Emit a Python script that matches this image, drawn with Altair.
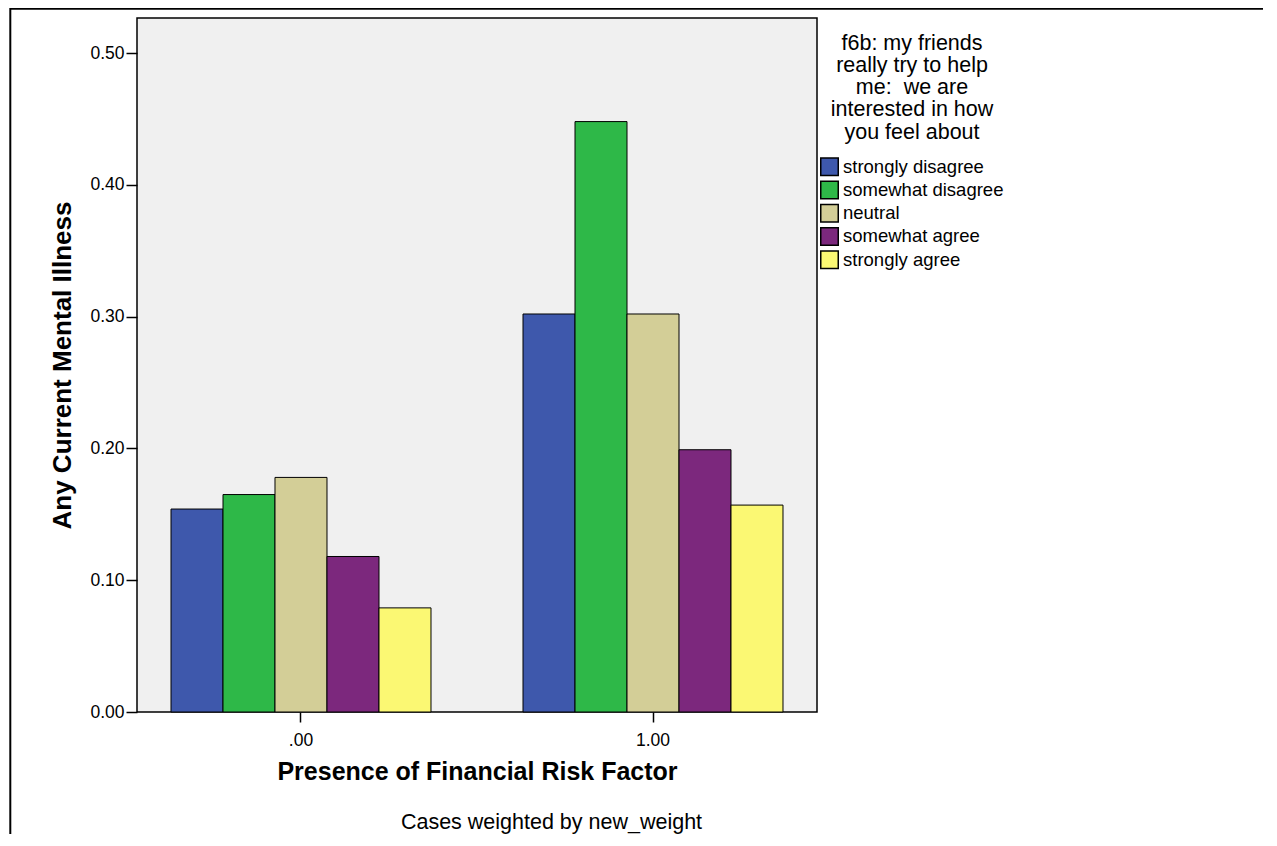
import altair as alt
import pandas as pd

risk = [".00", "1.00"]
categories = ["strongly disagree", "somewhat disagree", "neutral", "somewhat agree", "strongly agree"]
colors = ["#3E58AC", "#2EB848", "#D3CE97", "#7C287D", "#FBF873"]
vals_0 = [0.154, 0.165, 0.178, 0.118, 0.079]
vals_1 = [0.302, 0.448, 0.302, 0.199, 0.157]
y_ticks = [0.0, 0.1, 0.2, 0.3, 0.4, 0.5]
legend_title = ["f6b: my friends", "really try to help", "me: \u00a0we are", "interested in how", "you feel about"]

rows = []
for r, vals in zip(risk, [vals_0, vals_1]):
    for c, v in zip(categories, vals):
        rows.append({"risk": r, "cat": c, "value": v})
df = pd.DataFrame(rows)

FONT = "Liberation Sans"

bars = alt.Chart(df).mark_bar(stroke="black", strokeWidth=1, opacity=1).encode(
    x=alt.X("risk:N", sort=risk,
            scale=alt.Scale(paddingInner=0.2614, paddingOuter=0.0966),
            axis=alt.Axis(title="Presence of Financial Risk Factor", labelAngle=0,
                          domain=False, tickSize=10, tickWidth=1.5, tickColor="black",
                          labelPadding=9, labelFontSize=17.5, labelColor="black",
                          labelFont=FONT, titleFont=FONT, titleFontSize=25,
                          titleFontWeight="bold", titleColor="black", titlePadding=11)),
    xOffset=alt.XOffset("cat:N", sort=categories,
                        scale=alt.Scale(paddingInner=0, paddingOuter=0)),
    y=alt.Y("value:Q",
            scale=alt.Scale(domain=[0, 0.5266], nice=False, zero=True),
            axis=alt.Axis(title="Any Current Mental Illness", values=y_ticks, format=".2f",
                          grid=False, domain=False, tickSize=11, tickWidth=1.5,
                          tickColor="black", labelPadding=2, labelFontSize=17.5,
                          labelColor="black", labelFont=FONT, titleFont=FONT,
                          titleFontSize=26, titleFontWeight="bold", titleColor="black",
                          titlePadding=14)),
    color=alt.Color("cat:N", sort=categories,
                    scale=alt.Scale(domain=categories, range=colors),
                    legend=alt.Legend(title=legend_title, orient="none",
                                      legendX=683, legendY=14.5,
                                      titleFont=FONT, titleFontSize=21.5,
                                      titleFontWeight="normal", titleColor="black",
                                      titleAlign="center", titleAnchor="middle",
                                      titleLineHeight=22.3, titlePadding=14,
                                      labelFont=FONT, labelFontSize=18.5,
                                      labelColor="black", labelOffset=4, labelLimit=0,
                                      symbolType="square", symbolSize=306,
                                      symbolStrokeColor="black", symbolStrokeWidth=1.5,
                                      symbolOpacity=1, rowPadding=-1.75, padding=0)),
)

note = alt.Chart(alt.Data(values=[{"t": "Cases weighted by new_weight"}])).mark_text(
    font=FONT, fontSize=21.5, color="black", align="center", baseline="alphabetic"
).encode(text="t:N", x=alt.value(414.5), y=alt.value(811))

frame_top = alt.Chart(alt.Data(values=[{}])).mark_rule(color="black", strokeWidth=2).encode(
    x=alt.value(-126.7), x2=alt.value(1130), y=alt.value(-9.3))
frame_left = alt.Chart(alt.Data(values=[{}])).mark_rule(color="black", strokeWidth=2).encode(
    x=alt.value(-126.7), y=alt.value(-10.3), y2=alt.value(820))

chart = alt.layer(bars, note, frame_top, frame_left).properties(
    width=680, height=694,
    padding={"left": 129, "top": 10, "right": 446, "bottom": 122},
    autosize=alt.AutoSizeParams(type="none"),
).configure(
    font=FONT, background="white"
).configure_view(
    fill="#F0F0F0", stroke="black", strokeWidth=1.5
)

chart.save("out.html", embed_options={"renderer": "svg", "actions": False})
